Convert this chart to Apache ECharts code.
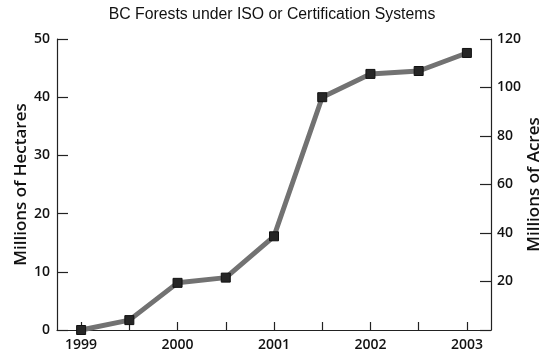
<!DOCTYPE html>
<html>
<head>
<meta charset="UTF-8" />
<script type="text/javascript" src="https://cdn.jsdelivr.net/npm/echarts@6/dist/echarts.min.js"></script>
<title>BC Forests</title>
<style>
	body { margin: 0; background: #fff; }
	#main { width: 544px; height: 355px; }
</style>
</head>
<body>
	<div id="main"></div>
<script type="text/javascript">
	// half-year steps, labels only on whole years
	var periods = ['1999', '', '2000', '', '2001', '', '2002', '', '2003']
	var hectares = [0, 1.7, 8.1, 9.0, 16.1, 40.0, 44.0, 44.5, 47.6]
	var hectareTicks = [0, 10, 20, 30, 40, 50]
	var acreTicks = [20, 40, 60, 80, 100, 120]

	var labelFont = { color: '#111', fontSize: 14, fontFamily: 'Open Sans', fontWeight: 600 }
	var nameFont = { color: '#111', fontSize: 17, fontFamily: 'Open Sans', fontWeight: 600 }
	function axisLine() { return { show: true, lineStyle: { color: '#222', width: 1.2 } } }
	function tick(len) { return { show: true, inside: true, alignWithLabel: true, interval: 0, length: len, lineStyle: { color: '#222', width: 1.2 } } }

	var option = {
		animation: false,
		title: {
			text: 'BC Forests under ISO or Certification Systems',
			left: 'center',
			top: 2,
			textStyle: { color: '#111', fontSize: 15.8, fontWeight: 'normal', fontFamily: 'Liberation Sans' }
		},
		grid: { left: 57, right: 53, top: 39, bottom: 25, outerBoundsMode: 'none', containLabel: false },
		xAxis: [{
			type: 'category',
			boundaryGap: true,
			data: periods,
			axisLine: axisLine(),
			axisTick: tick(8),
			axisLabel: Object.assign({ interval: 0, margin: 8 }, labelFont),
			splitLine: { show: false }
		}],
		yAxis: [{
			type: 'value',
			position: 'left',
			min: hectareTicks[0],
			max: hectareTicks[hectareTicks.length - 1],
			interval: 10,
			name: 'Millions of Hectares',
			nameLocation: 'middle',
			nameGap: 27,
			nameMoveOverlap: false,
			nameTextStyle: nameFont,
			axisLine: axisLine(),
			axisTick: tick(11),
			axisLabel: Object.assign({ margin: 7 }, labelFont),
			splitLine: { show: false }
		}, {
			type: 'value',
			position: 'right',
			min: 0,
			max: acreTicks[acreTicks.length - 1],
			interval: 20,
			name: 'Millions of Acres',
			nameLocation: 'middle',
			nameGap: 35,
			nameRotate: 90,
			nameMoveOverlap: false,
			nameTextStyle: nameFont,
			axisLine: axisLine(),
			axisTick: tick(11),
			axisLabel: Object.assign({
				margin: 6,
				formatter: function (v) { return acreTicks.indexOf(v) >= 0 ? String(v) : '' }
			}, labelFont),
			splitLine: { show: false }
		}],
		series: [{
			type: 'line',
			data: hectares,
			yAxisIndex: 0,
			symbol: 'rect',
			symbolSize: 9,
			lineStyle: { color: '#727272', width: 5 },
			itemStyle: { color: '#262626', borderColor: '#111', borderWidth: 1 }
		}]
	}

	var myChart = echarts.init(document.getElementById('main'))
	myChart.setOption(option)
</script>
</body>
</html>
